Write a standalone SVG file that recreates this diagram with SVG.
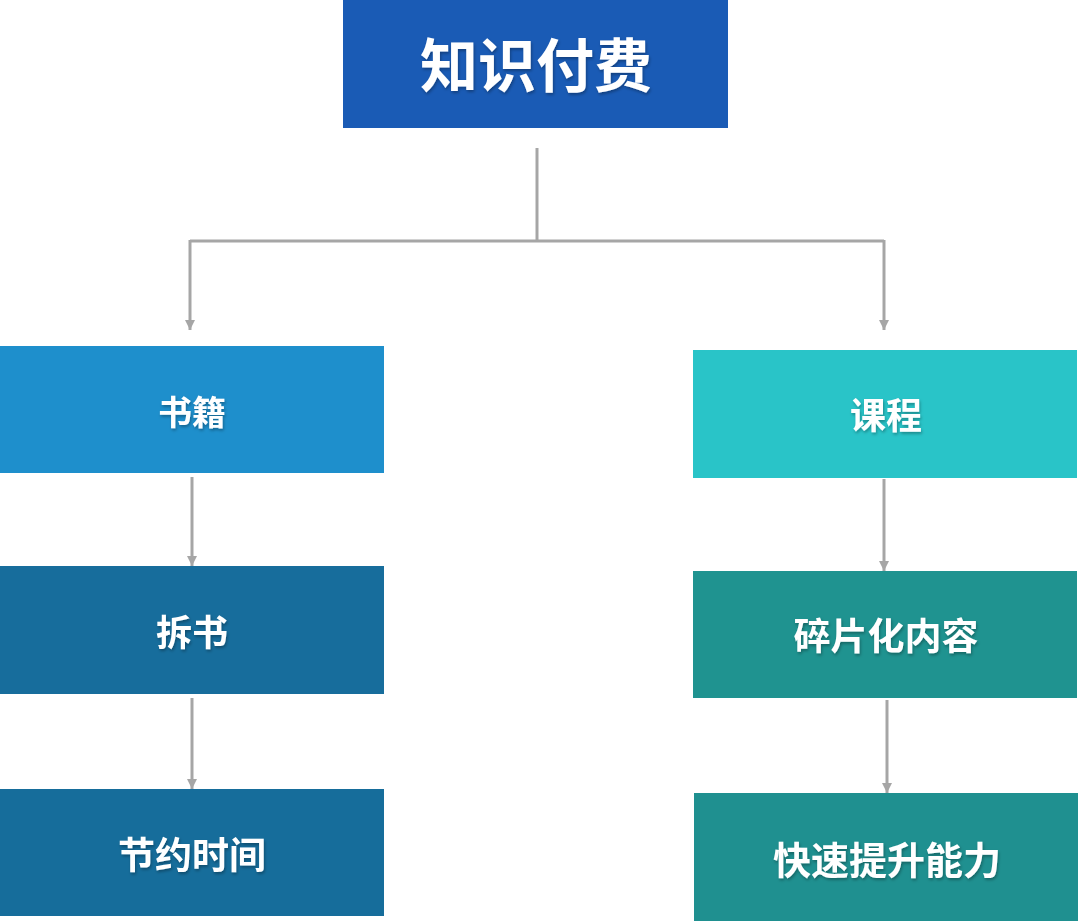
<svg xmlns="http://www.w3.org/2000/svg" width="1080" height="923" viewBox="0 0 1080 923">
<style>
.lbl{font-family:"Noto Sans CJK SC","Noto Sans CJK JP",sans-serif;font-weight:700;fill:#ffffff;text-anchor:middle;dominant-baseline:central}
.con{stroke:#a6a6a6;stroke-width:3;fill:none}
</style>
<defs>
<marker id="arr" viewBox="0 0 10 10" refX="10" refY="5" markerWidth="10" markerHeight="10" markerUnits="userSpaceOnUse" orient="auto">
<path d="M0,0 L10,5 L0,10 Z" fill="#a6a6a6"/>
</marker>
<filter id="sh" x="-10%" y="-10%" width="120%" height="130%">
<feDropShadow dx="1" dy="2" stdDeviation="1.5" flood-color="#000" flood-opacity="0.3"/>
</filter>
</defs>
<rect width="1080" height="923" fill="#ffffff"/>
<g id="connectors">
<path class="con" d="M537,148 V241"/>
<path class="con" d="M190,241 H884"/>
<path class="con" d="M190,240 V330" marker-end="url(#arr)"/>
<path class="con" d="M884,240 V330" marker-end="url(#arr)"/>
<path class="con" d="M192,477 V566" marker-end="url(#arr)"/>
<path class="con" d="M192,698 V789" marker-end="url(#arr)"/>
<path class="con" d="M884,479 V571" marker-end="url(#arr)"/>
<path class="con" d="M887,700 V793" marker-end="url(#arr)"/>
</g>
<g id="node-root">
<rect x="343" y="0" width="385" height="128" fill="#1a5bb5"/>
<text class="lbl" x="536" y="62" font-size="58" filter="url(#sh)">知识付费</text>
</g>
<g id="node-books">
<rect x="0" y="346" width="384" height="127" fill="#1e8fcc"/>
<text class="lbl" x="192" y="410" font-size="34" filter="url(#sh)">书籍</text>
</g>
<g id="node-courses">
<rect x="693" y="350" width="384" height="128" fill="#29c4c8"/>
<text class="lbl" x="886" y="413" font-size="36" filter="url(#sh)">课程</text>
</g>
<g id="node-chaishu">
<rect x="0" y="566" width="384" height="128" fill="#176d9c"/>
<text class="lbl" x="192" y="630" font-size="36" filter="url(#sh)">拆书</text>
</g>
<g id="node-fragment">
<rect x="693" y="571" width="384" height="127" fill="#1f9390"/>
<text class="lbl" x="886" y="634" font-size="37" filter="url(#sh)">碎片化内容</text>
</g>
<g id="node-savetime">
<rect x="0" y="789" width="384" height="127" fill="#166d9b"/>
<text class="lbl" x="192" y="853" font-size="37" filter="url(#sh)">节约时间</text>
</g>
<g id="node-ability">
<rect x="694" y="793" width="384" height="128" fill="#1f9090"/>
<text class="lbl" x="887" y="857" font-size="38" filter="url(#sh)">快速提升能力</text>
</g>
</svg>
